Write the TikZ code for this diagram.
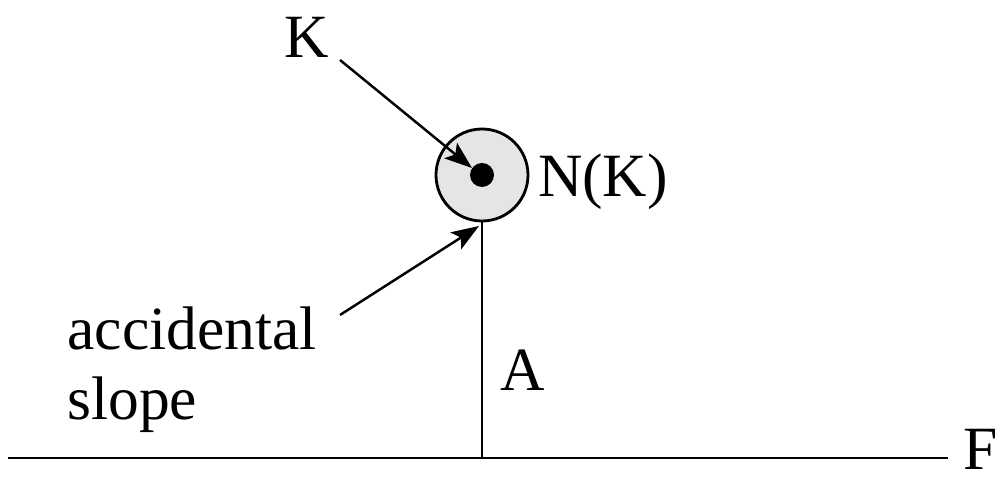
\documentclass[tikz,border=0pt]{standalone}
\usepackage{fontspec}
\setmainfont{Liberation Serif}
\usetikzlibrary{arrows.meta}
\tikzset{
  lbl/.style={font=\fontsize{35}{40}\selectfont, inner sep=0pt},
  pointer/.style={-{Stealth[length=0.55cm,width=0.4cm,inset=0.12cm]}, line width=1.4pt}
}
\begin{document}
\begin{tikzpicture}[x=0.02cm,y=-0.02cm, line width=1.6pt]
\useasboundingbox (0,0) rectangle (1005,479);
% field line and the vertical
\coordinate (fl) at (8,458);
\coordinate (fr) at (948,458);
\coordinate (foot) at (482,458);
\coordinate (kpt) at (482,175);
\coordinate (nbot) at (482,222);
\draw (fl) -- (fr);
\draw (nbot) -- (foot);
% neighbourhood of K
\draw[fill=gray!20] (kpt) circle (46);
\fill (kpt) circle (12);
\node[lbl] (K) at (307,37) {K};
\node[lbl] (NK) at (603,182) {N(K)};
\node[lbl] (A) at (523,370) {A};
\node[lbl, anchor=west] (F) at (962,449) {F};
\node[lbl, anchor=west] (acc) at (66,328) {accidental};
\node[lbl, anchor=west] (slp) at (66,405) {slope};
\coordinate (ktail) at (340,60);
\coordinate (ktip) at (472,168);
\coordinate (atail) at (340,315);
\coordinate (atip) at (479,226);
\draw[pointer] (ktail) -- (ktip);
\draw[pointer] (atail) -- (atip);
\end{tikzpicture}
\end{document}
